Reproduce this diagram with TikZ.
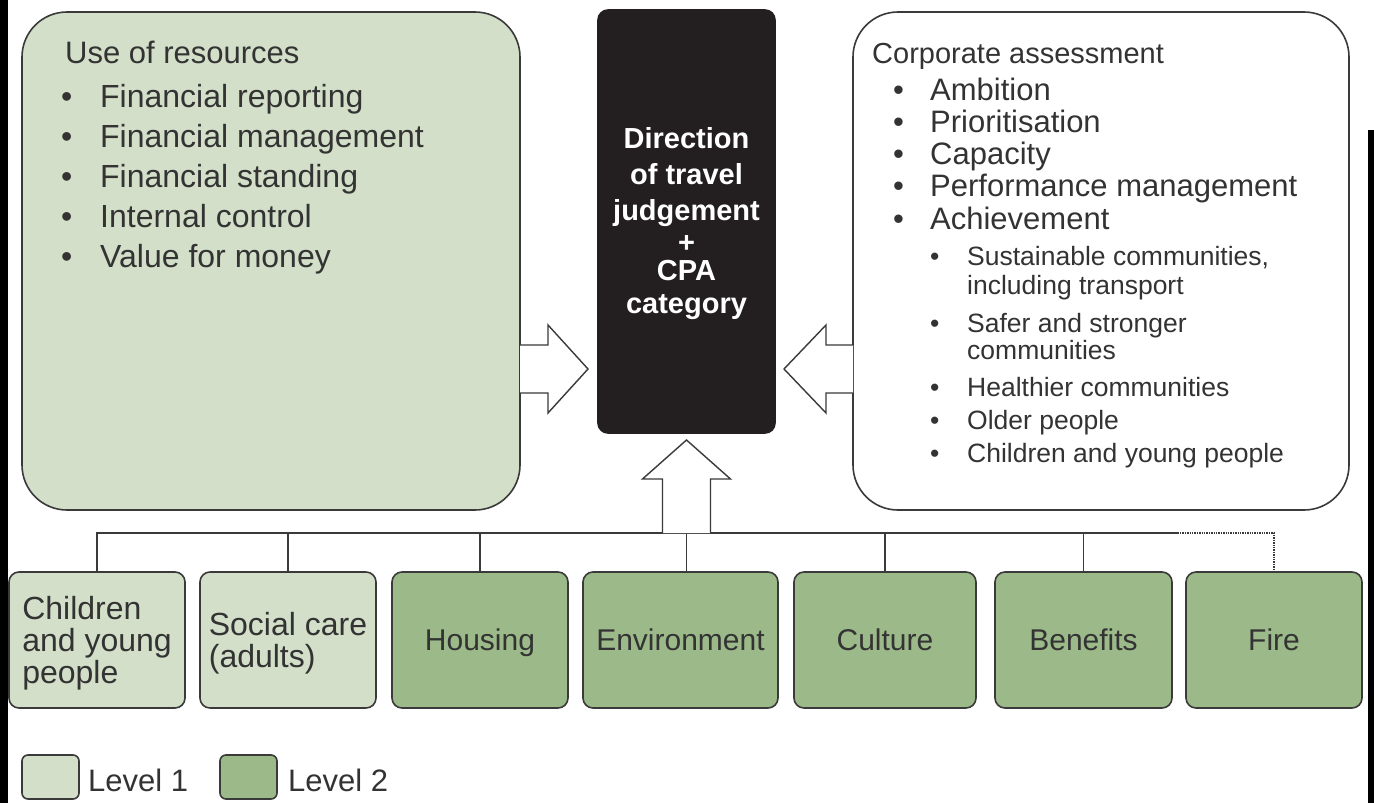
\documentclass[tikz,border=0pt]{standalone}
\usepackage{fontspec}
\setmainfont{Liberation Sans}
\usetikzlibrary{calc}
\definecolor{lvlone}{HTML}{D3DFC9}
\definecolor{lvltwo}{HTML}{9CBA89}
\definecolor{ink}{HTML}{333333}
\definecolor{edge}{HTML}{3A3A3A}
\definecolor{judge}{HTML}{231F20}
% drop a line's descender so single labels sit on the box centre
\newcommand{\nodepth}[1]{\raisebox{0pt}[\height][0pt]{#1}}

\begin{document}
\begin{tikzpicture}[x=1pt,y=-1pt,
  panel/.style={draw=edge, line width=1.6pt, rounded corners=45pt, inner sep=0pt, outer sep=0pt, anchor=north west},
  service/.style={draw=edge, line width=1.6pt, rounded corners=10pt, minimum width=176pt, minimum height=136pt,
    inner sep=0pt, outer sep=0pt, anchor=north west, text=ink, align=left, font=\fontsize{30}{32}\selectfont},
  key/.style={draw=edge, line width=1.6pt, rounded corners=6pt, minimum width=57pt, minimum height=44pt,
    inner sep=0pt, outer sep=0pt, anchor=north west},
  line/.style={anchor=base west, inner sep=0pt, text=ink},
  big/.style={line, font=\fontsize{31}{40}\selectfont},
  item/.style={line, font=\fontsize{32}{40}\selectfont},
  mid/.style={line, font=\fontsize{31}{32}\selectfont},
  small/.style={line, font=\fontsize{26.5}{28}\selectfont},
  white line/.style={anchor=base, inner sep=0pt, text=white, font=\bfseries\fontsize{29}{33}\selectfont},
  wire/.style={draw=edge, line width=1.4pt},
  blockarrow/.style={draw=edge, fill=white, line width=1.4pt, line join=miter},
]
\useasboundingbox (0,0) rectangle (1374,803);
\fill[white] (0,0) rectangle (1374,803);
% dark edge strips
\fill[black] (0,0) rectangle (8,803);
\fill[black] (1368,130) rectangle (1374,803);

% three top panels
\node[panel, fill=lvlone, minimum width=498pt, minimum height=498pt] (res) at (22,12) {};
\node[panel, fill=white, minimum width=496pt, minimum height=498pt] (corp) at (853,12) {};
\node[panel, fill=judge, draw=judge, rounded corners=10pt, minimum width=177pt, minimum height=423pt] (cpa) at (598,10) {};

% use of resources
\node[big] (res-t) at (65,63) {Use of resources};
\foreach \t [count=\i] in {Financial reporting, Financial management, Financial standing, Internal control, Value for money}
  \node[item] (res-\i) at (61,{107+40*(\i-1)}) {\makebox[39pt][l]{\textbullet}\t};

% corporate assessment
\node[big, font=\fontsize{29}{32}\selectfont] (corp-t) at (872,63) {Corporate assessment};
\foreach \t [count=\i] in {Ambition, Prioritisation, Capacity, Performance management, Achievement}
  \node[mid] (corp-\i) at (893,{100+32.3*(\i-1)}) {\makebox[37pt][l]{\textbullet}\t};
\node[small] (ach-1) at (930,265) {\makebox[37pt][l]{\textbullet}Sustainable communities,};
\node[small] (ach-1b) at (967,294) {including transport};
\node[small] (ach-2) at (930,332) {\makebox[37pt][l]{\textbullet}Safer and stronger};
\node[small] (ach-2b) at (967,359) {communities};
\node[small] (ach-3) at (930,396) {\makebox[37pt][l]{\textbullet}Healthier communities};
\node[small] (ach-4) at (930,429) {\makebox[37pt][l]{\textbullet}Older people};
\node[small] (ach-5) at (930,462) {\makebox[37pt][l]{\textbullet}Children and young people};

% judgement box text
\node[white line] (cpa-1) at (686.5,148) {Direction};
\node[white line] (cpa-2) at (686.5,184) {of travel};
\node[white line] (cpa-3) at (686.5,220) {judgement};
\node[white line] (cpa-4) at (686.5,252) {\smash{+}};
\node[white line] (cpa-5) at (686.5,280) {CPA};
\node[white line] (cpa-6) at (686.5,313) {category};

% service blocks
\node[service, fill=lvlone, font=\fontsize{32}{32}\selectfont] (b1) at (9,572) {Children\\and young\\\nodepth{people}};
\node[service, fill=lvlone, font=\fontsize{32}{32}\selectfont] (b2) at (200,572) {Social care\\\nodepth{(adults)}};
\node[service, fill=lvltwo] (b3) at (392,572) {\nodepth{Housing}};
\node[service, fill=lvltwo, minimum width=195pt] (b4) at (583,572) {Environment};
\node[service, fill=lvltwo, minimum width=182pt] (b5) at (794,572) {Culture};
\node[service, fill=lvltwo, minimum width=177pt] (b6) at (995,572) {Benefits};
\node[service, fill=lvltwo] (b7) at (1186,572) {Fire};

% bus linking the service blocks
\coordinate (bus) at (0,533);
\coordinate (mid) at (0,369);
\draw[wire] (b1.north) -- (b1.north |- bus) -- ($(b6.north |- bus)+(94,0)$);
\draw[wire, densely dotted] ($(b6.north |- bus)+(94,0)$) -- (b7.north |- bus) -- (b7.north);
\foreach \b in {b2,b3,b5,b6}
  \draw[wire] (\b.north |- bus) -- (\b.north);
\draw[wire] (cpa.south |- bus) -- (cpa.south |- b4.north);

% block arrows into the judgement
\draw[blockarrow] (res.east |- mid) ++(0,-24) -- ++(28,0) -- ++(0,-20) -- ++(40,44) -- ++(-40,44) -- ++(0,-20) -- ++(-28,0);
\draw[blockarrow] (corp.west |- mid) ++(0,-24) -- ++(-27,0) -- ++(0,-20) -- ++(-42,44) -- ++(42,44) -- ++(0,-20) -- ++(27,0);
\draw[blockarrow] (cpa.south |- bus) ++(-24,0) -- ++(0,-54) -- ++(-20,0) -- ++(44,-39) -- ++(44,39) -- ++(-20,0) -- ++(0,54);

% legend
\node[key, fill=lvlone] (k1) at (22,755) {};
\node[big] (k1-t) at (88,791) {Level 1};
\node[key, fill=lvltwo] (k2) at (220,755) {};
\node[big] (k2-t) at (288,791) {Level 2};
\end{tikzpicture}
\end{document}
